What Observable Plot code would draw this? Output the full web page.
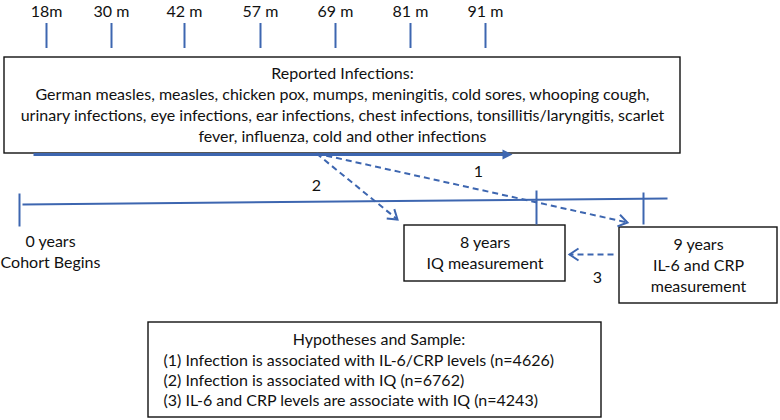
<!DOCTYPE html>
<html><head><meta charset="utf-8">
<script src="https://cdn.jsdelivr.net/npm/d3@7"></script>
<script src="https://cdn.jsdelivr.net/npm/@observablehq/plot@0.6"></script>
<style>
html,body{margin:0;padding:0;background:#fff;}
#chart svg{display:block;}
</style></head><body><div id="chart"></div>
<script>
// ---------------- data ----------------
const monthLabels = ["18m", "30 m", "42 m", "57 m", "69 m", "81 m", "91 m"];
const infectionTitle = "Reported Infections:";
const infectionLines = [
  "German measles, measles, chicken pox, mumps, meningitis, cold sores, whooping cough,",
  "urinary infections, eye infections, ear infections, chest infections, tonsillitis/laryngitis, scarlet",
  "fever, influenza, cold and other infections"
];
const startLabel = ["0 years", "Cohort Begins"];
const iqLabel = ["8 years", "IQ measurement"];
const crpLabel = ["9 years", "IL-6 and CRP", "measurement"];
const pathLabels = ["1", "2", "3"];
const hypTitle = "Hypotheses and Sample:";
const hypotheses = [
  "Infection is associated with IL-6/CRP levels",
  "Infection is associated with IQ",
  "IL-6 and CRP levels are associate with IQ"
];
const sampleSizes = [4626, 6762, 4243];

// ---------------- layout (pixels) ----------------
const BLUE = "#3d66b0";
const INK = "#111";
const FONT = 16;
const monthX = [46, 111, 184, 260, 335, 410, 485];
const topBox = {x1: 4, y1: 57, x2: 680, y2: 153};
const iqBox = {x1: 404, y1: 225, x2: 565, y2: 281};
const crpBox = {x1: 619, y1: 227, x2: 777, y2: 303};
const hypBox = {x1: 148, y1: 322, x2: 601, y2: 417};
const timeline = {x1: 22, y1: 204, x2: 667, y2: 198};
const timeTicks = [
  {x1: 19, y1: 193, x2: 19, y2: 226},
  {x1: 536, y1: 190, x2: 536, y2: 224},
  {x1: 643, y1: 192, x2: 643, y2: 224}
];
const solidArrow = {x1: 33, y1: 154, x2: 512, y2: 154};
const dashedArrows = [
  {x1: 316, y1: 153, x2: 627, y2: 222},
  {x1: 316, y1: 153, x2: 397, y2: 219},
  {x1: 613, y1: 254, x2: 569, y2: 254}
];
const pathLabelPos = [{x: 478, y: 171}, {x: 316, y: 185}, {x: 597, y: 277}];

// ---------------- symbols ----------------
const chevron = {
  draw(ctx, size) {
    const s = Math.sqrt(size / Math.PI);
    ctx.moveTo(-s * 1.5, -s);
    ctx.lineTo(0, 0);
    ctx.lineTo(-s * 1.5, s);
  }
};
const triangleHead = {
  draw(ctx, size) {
    const s = Math.sqrt(size / Math.PI);
    ctx.moveTo(0, 0);
    ctx.lineTo(-2 * s, -s);
    ctx.lineTo(-2 * s, s);
    ctx.closePath();
  }
};
const angle = (d) => Math.atan2(d.y2 - d.y1, d.x2 - d.x1) * 180 / Math.PI;
const lineH = 21;
const block = (lines, cx, cy) => lines.map((t, i) => ({t, x: cx, y: cy + (i - (lines.length - 1) / 2) * lineH}));

const topText = block([infectionTitle, ...infectionLines], (topBox.x1 + topBox.x2) / 2, (topBox.y1 + topBox.y2) / 2);
const iqText = block(iqLabel, (iqBox.x1 + iqBox.x2) / 2, (iqBox.y1 + iqBox.y2) / 2);
const crpText = block(crpLabel, (crpBox.x1 + crpBox.x2) / 2, (crpBox.y1 + crpBox.y2) / 2);
const startText = block(startLabel, 50, 252);
const hypLines = hypotheses.map((h, i) => `(${i + 1}) ${h} (n=${sampleSizes[i]})`);
const hypTitleRow = [{t: hypTitle, x: (hypBox.x1 + hypBox.x2) / 2 + 4, y: 339}];
const hypRows = hypLines.map((t, i) => ({t, x: 163, y: 360 + i * 20}));

const plot = Plot.plot({
  width: 780,
  height: 420,
  margin: 0,
  x: {domain: [0, 780], range: [0, 780], axis: null},
  y: {domain: [0, 420], range: [0, 420], axis: null},
  style: {fontFamily: "Lato, 'Open Sans', sans-serif", fontSize: FONT + "px", background: "#fff", color: INK},
  marks: [
    // month ticks and labels
    Plot.ruleX(monthX, {x: (d) => d, y1: 23, y2: 48, stroke: BLUE, strokeWidth: 2}),
    Plot.text(monthLabels, {x: (d, i) => monthX[i], y: 11, text: (d) => d, fontSize: FONT, fill: INK}),
    // boxes
    Plot.rect([topBox, iqBox, crpBox, hypBox], {x1: "x1", x2: "x2", y1: "y1", y2: "y2", fill: "#fff", stroke: INK, strokeWidth: 1.4}),
    // box texts
    Plot.text([...topText, ...iqText, ...crpText, ...startText, ...hypTitleRow], {x: "x", y: "y", text: "t", fontSize: FONT, fill: INK}),
    Plot.text(hypRows, {x: "x", y: "y", text: "t", textAnchor: "start", fontSize: FONT, fill: INK}),
    // timeline
    Plot.link([timeline], {x1: "x1", y1: "y1", x2: "x2", y2: "y2", stroke: BLUE, strokeWidth: 2}),
    Plot.link(timeTicks, {x1: "x1", y1: "y1", x2: "x2", y2: "y2", stroke: BLUE, strokeWidth: 2}),
    // solid infection-period arrow
    Plot.link([solidArrow], {x1: "x1", y1: "y1", x2: (d) => d.x2 - 6, y2: "y2", stroke: BLUE, strokeWidth: 3}),
    Plot.dot([solidArrow], {x: "x2", y: "y2", symbol: triangleHead, r: 5, fill: BLUE, stroke: "none", rotate: angle}),
    // dashed hypothesis arrows
    Plot.link(dashedArrows, {x1: "x1", y1: "y1", x2: "x2", y2: "y2", stroke: BLUE, strokeWidth: 2, strokeDasharray: "6,4"}),
    Plot.dot(dashedArrows, {x: "x2", y: "y2", symbol: chevron, r: 6, fill: "none", stroke: BLUE, strokeWidth: 2, rotate: angle}),
    Plot.text(pathLabels, {x: (d, i) => pathLabelPos[i].x, y: (d, i) => pathLabelPos[i].y, text: (d) => d, fontSize: FONT, fill: INK})
  ]
});
document.getElementById("chart").appendChild(plot);
</script>
</body></html>
